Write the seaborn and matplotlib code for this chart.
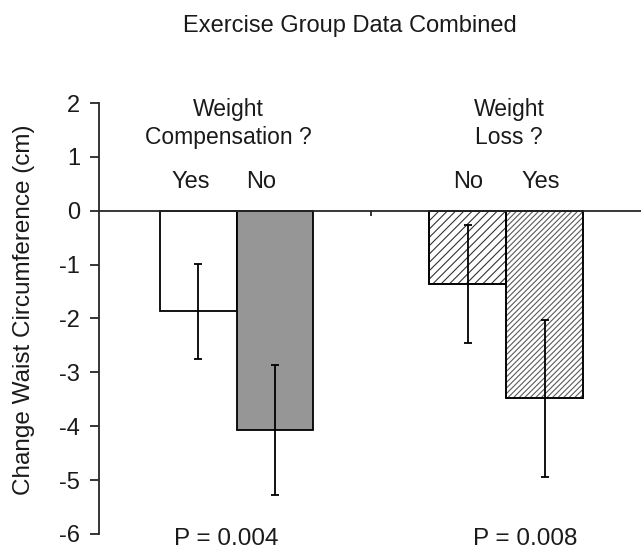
import numpy as np
import pandas as pd
import seaborn as sns
from matplotlib import pyplot as plt
from matplotlib.patches import Rectangle

# data
groups = ["Weight\nCompensation ?", "Weight\nLoss ?"]
bar_group = [0, 0, 1, 1]
bar_side = ["left", "right", "left", "right"]
bar_labels = ["Yes", "No", "No", "Yes"]
bar_values = [-1.87, -4.07, -1.36, -3.48]
bar_errors = [0.89, 1.20, 1.09, 1.46]
p_values = ["P = 0.004", "P = 0.008"]
y_ticks = [2, 1, 0, -1, -2, -3, -4, -5, -6]

df = pd.DataFrame(
    {
        "group": [groups[g] for g in bar_group],
        "side": bar_side,
        "value": bar_values,
        "err": bar_errors,
    }
)

sns.set_style("ticks")
plt.rcParams["font.family"] = ["Liberation Sans", "DejaVu Sans"]
plt.rcParams["hatch.linewidth"] = 0.8

fig = plt.figure(figsize=(6.41, 5.51), dpi=100)
ax = fig.add_axes([0.1545, 0.031, 0.8455, 0.782])

sns.barplot(
    data=df,
    x="group",
    y="value",
    hue="side",
    order=groups,
    hue_order=["left", "right"],
    dodge=True,
    width=0.57,
    errorbar=None,
    color="white",
    legend=False,
    ax=ax,
)

# styles for each bar (in data order)
face_colors = ["white", "#969696", "white", "white"]
hatches = [None, None, "////", "//////"]
hatch_colors = ["black", "black", "#333333", "#5a5a5a"]

bars = sorted(ax.patches, key=lambda p: p.get_x())
centers = []
for i, bar in enumerate(bars):
    bar.set_facecolor(face_colors[i])
    bar.set_linewidth(1.3)
    if hatches[i]:
        # hatch takes the edge colour, so outline again in black on top
        bar.set_hatch(hatches[i])
        bar.set_edgecolor(hatch_colors[i])
        ax.add_patch(Rectangle(bar.get_xy(), bar.get_width(), bar.get_height(),
                               fill=False, edgecolor="black", linewidth=1.3,
                               zorder=bar.get_zorder() + 0.1))
    else:
        bar.set_edgecolor("black")
    centers.append(bar.get_x() + bar.get_width() / 2)

ax.errorbar(
    centers,
    bar_values,
    yerr=bar_errors,
    fmt="none",
    ecolor="black",
    elinewidth=1.3,
    capsize=3,
    capthick=1.3,
    zorder=5,
)

# yes / no labels above the bars
label_x = [-0.17, 0.09, 0.86, 1.13]
for x, lab in zip(label_x, bar_labels):
    ax.text(x, 0.53, lab, ha="center", va="center", fontsize=17, color="#1a1a1a")

# group headings
for i, g in enumerate(groups):
    x = -0.03 if i == 0 else 1.01
    ax.text(x, 1.62, g, ha="center", va="center", fontsize=16.5,
            color="#1a1a1a", linespacing=1.3)

# p-values under each group
for x, p in zip([-0.04, 1.07], p_values):
    ax.text(x, -6.1, p, ha="center", va="center", fontsize=17.5,
            color="#1a1a1a", clip_on=False)

ax.set_xlim(-0.51, 1.5)
ax.set_ylim(-6, 2)
ax.set_yticks(y_ticks)
ax.set_yticklabels([str(t) for t in y_ticks], fontsize=17, color="#1a1a1a")
ax.set_xticks([0.5])
ax.set_xticklabels([])
ax.set_xlabel("")
ax.set_ylabel("Change Waist Circumference (cm)", fontsize=17.5, color="#1a1a1a")
ax.yaxis.set_label_coords(-0.118, 0.52)

ax.spines["top"].set_visible(False)
ax.spines["right"].set_visible(False)
ax.spines["bottom"].set_position(("data", 0))
ax.spines["left"].set_linewidth(1.3)
ax.spines["bottom"].set_linewidth(1.3)
ax.tick_params(axis="y", direction="out", length=6.5, width=1.3, pad=7)
ax.tick_params(axis="x", direction="out", length=3.5, width=1.3)

fig.text(350 / 641, 1 - 26 / 551, "Exercise Group Data Combined",
         ha="center", va="center", fontsize=17, color="#1a1a1a")

fig.savefig("out.png", dpi=100)
